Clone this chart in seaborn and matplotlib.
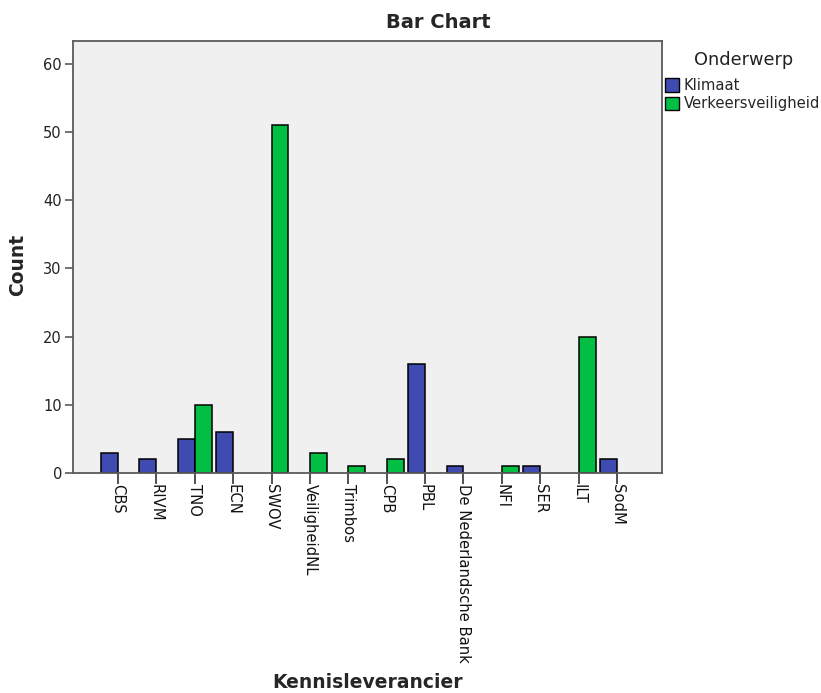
import matplotlib
matplotlib.use("Agg")
import matplotlib.pyplot as plt
import seaborn as sns
import pandas as pd

categories = ["CBS", "RIVM", "TNO", "ECN", "SWOV", "VeiligheidNL", "Trimbos", "CPB",
              "PBL", "De Nederlandsche Bank", "NFI", "SER", "ILT", "SodM"]
klimaat = [3, 2, 5, 6, 0, 0, 0, 0, 16, 1, 0, 1, 0, 2]
verkeersveiligheid = [0, 0, 10, 0, 51, 3, 1, 2, 0, 0, 1, 0, 20, 0]
series = ["Klimaat", "Verkeersveiligheid"]
colors = ["#3f4bb0", "#00bf43"]
yticks = [0, 10, 20, 30, 40, 50, 60]

rows = []
for c, k, v in zip(categories, klimaat, verkeersveiligheid):
    if k:
        rows.append({"Kennisleverancier": c, "Onderwerp": series[0], "Count": k})
    if v:
        rows.append({"Kennisleverancier": c, "Onderwerp": series[1], "Count": v})
df = pd.DataFrame(rows)

sns.set_style("white")
plt.rcParams["font.family"] = ["DejaVu Sans"]

fig = plt.figure(figsize=(8.21, 6.93), dpi=100)
ax = fig.add_axes([73/821, 1-473/693, (662-73)/821, (473-40.7)/693])
ax.set_facecolor("#f0f0f0")

sns.barplot(data=df, x="Kennisleverancier", y="Count", hue="Onderwerp",
            order=categories, hue_order=series, palette=colors,
            width=0.88, edgecolor="black", linewidth=1.1, ax=ax,
            errorbar=None, saturation=1)

n = len(categories)
ax.set_xlim(-1.17, n - 1 + 1.17)
ax.set_ylim(0, 63.4)
ax.set_yticks(yticks)

for s in ax.spines.values():
    s.set_color("#5a5a5a")
    s.set_linewidth(1.3)

ax.tick_params(axis="y", direction="out", length=6, width=1.2, color="#5a5a5a",
               labelsize=10.5, labelcolor="#222222", pad=2, left=True)
ax.tick_params(axis="x", direction="out", length=8, width=1.2, color="#333333",
               labelsize=10.6, labelcolor="#111111", pad=0, bottom=True)
ax.set_xticks(range(n))
ax.set_xticklabels(categories, rotation=-90, ha="center", va="top")

ax.set_xlabel("")
ax.set_ylabel("")
fig.text(368/821, 1-683/693, "Kennisleverancier", fontsize=13.5, fontweight="bold",
         ha="center", va="center")
fig.text(18/821, 1-265/693, "Count", fontsize=13.5, fontweight="bold",
         ha="center", va="center", rotation=90)
fig.text(438/821, 1-22/693, "Bar Chart", fontsize=14, fontweight="bold",
         ha="center", va="center")

fig.text(744/821, 1-60/693, "Onderwerp", fontsize=12.8, ha="center", va="center",
         color="#222222")
leg = ax.legend(loc="upper left",
                bbox_to_anchor=(665/821, 1-78/693), bbox_transform=fig.transFigure,
                frameon=False, fontsize=10.6,
                handlelength=0.95, handleheight=1.0, handletextpad=0.3,
                labelspacing=0.22, borderaxespad=0, borderpad=0)
for h in leg.legend_handles:
    h.set_edgecolor("black")
    h.set_linewidth(1.0)

fig.savefig("out.png", dpi=100)
